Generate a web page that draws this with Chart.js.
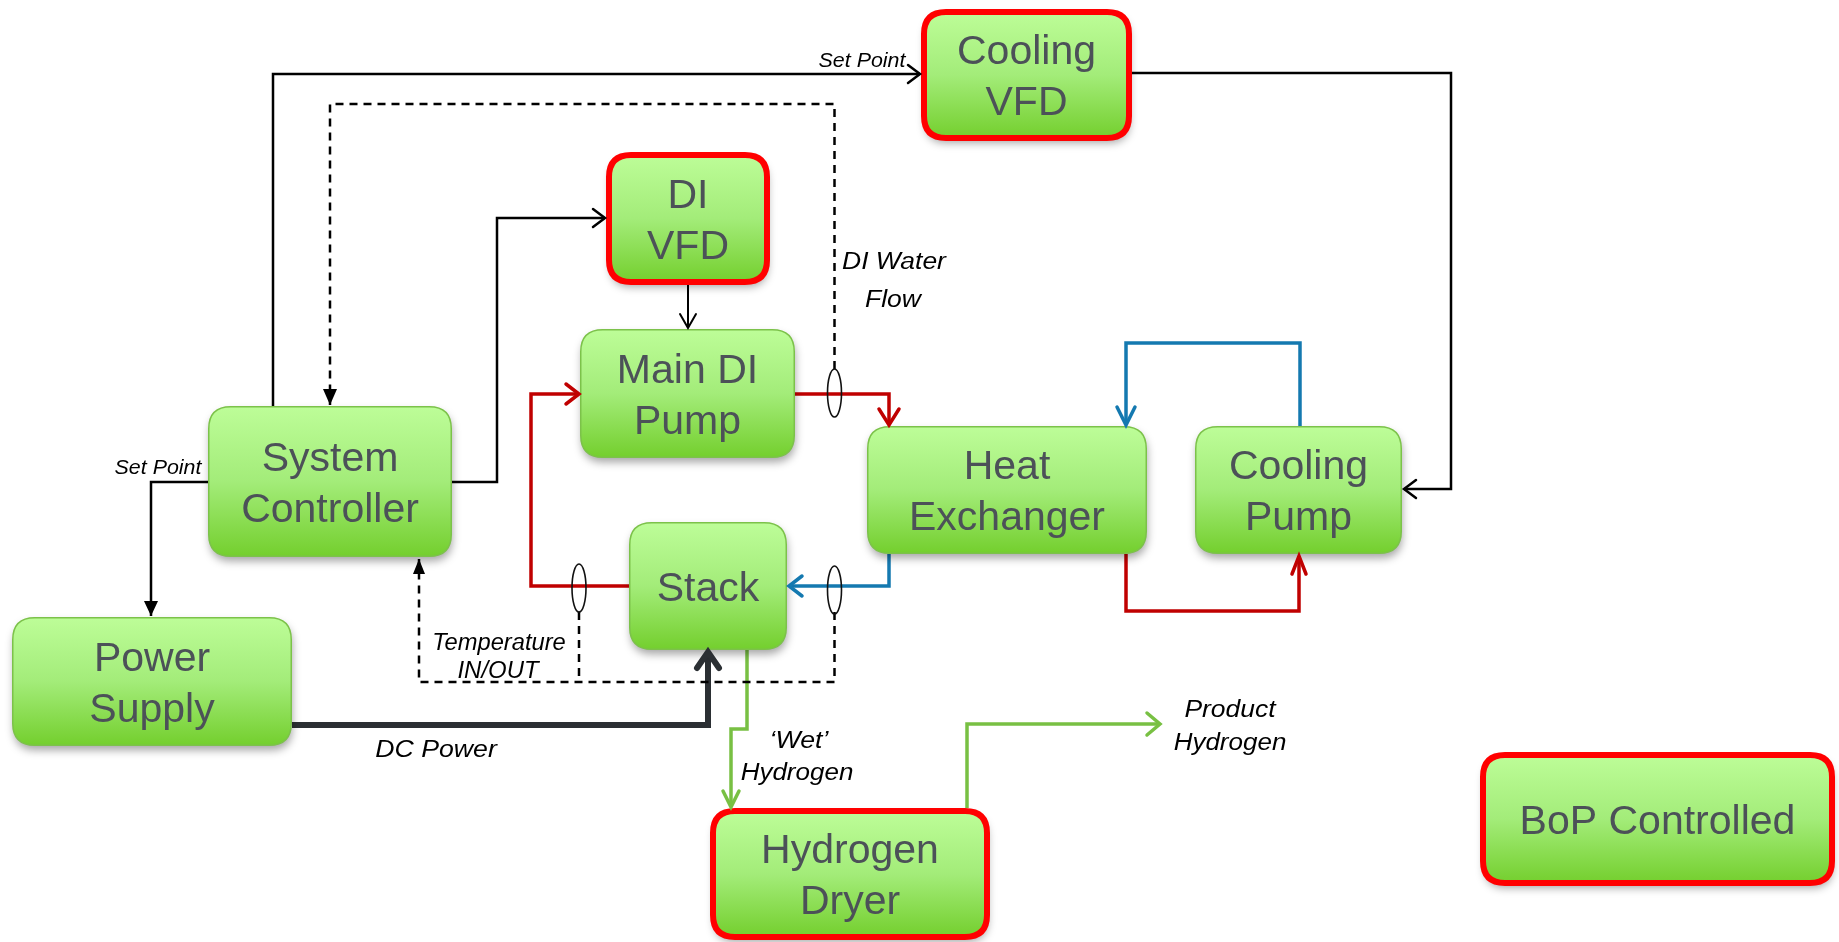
<!DOCTYPE html>
<html>
<head>
<meta charset="utf-8">
<script src="https://cdn.jsdelivr.net/npm/chart.js@4/dist/chart.umd.min.js"></script>
<style>
  html, body { margin: 0; padding: 0; background: #fff; }
  #wrap { width: 1839px; height: 942px; }
</style>
</head>
<body>
<div id="wrap"><canvas id="diagram" width="1839" height="942"></canvas></div>
<script>
  // blocks of the diagram (drawing units = reference pixels)
  const boxLabels = [["Cooling", "VFD"], ["DI", "VFD"], ["Main DI", "Pump"], ["System", "Controller"],
                     ["Heat", "Exchanger"], ["Cooling", "Pump"], ["Stack"], ["Power", "Supply"],
                     ["Hydrogen", "Dryer"], ["BoP Controlled"]];
  const boxLeft   = [921, 606, 580, 208, 867, 1195, 629, 12, 710, 1480];
  const boxTop    = [9, 152, 329, 406, 426, 426, 522, 617, 808, 752];
  const boxRight  = [1132, 770, 795, 452, 1147, 1402, 787, 292, 990, 1835];
  const boxBottom = [141, 285, 458, 557, 554, 554, 650, 746, 940, 886];
  const boxBoP    = [true, true, false, false, false, false, false, false, true, true];

  // connectors, as polylines
  const setPointTop   = [[273, 406], [273, 74], [920, 74]];
  const diFlowSignal  = [[834.5, 369], [834.5, 104], [330, 104], [330, 405]];
  const ctrlToDiVfd   = [[452, 482], [497, 482], [497, 218], [605, 218]];
  const diVfdToPump   = [[688, 285], [688, 328]];
  const setPointLeft  = [[208, 482], [151, 482], [151, 616]];
  const tempSignal    = [[834.5, 612], [834.5, 682], [419, 682], [419, 559]];
  const tempInBranch  = [[579, 612], [579, 682]];
  const stackToPump   = [[629, 586], [531, 586], [531, 394], [579, 394]];
  const pumpToHx      = [[795, 394], [889, 394], [889, 425]];
  const hxToStack     = [[889, 554], [889, 586], [789, 586]];
  const coolLoopBlue  = [[1300, 426], [1300, 343], [1126, 343], [1126, 425]];
  const coolLoopRed   = [[1126, 554], [1126, 611], [1299, 611], [1299, 556]];
  const coolVfdToPump = [[1132, 73], [1451, 73], [1451, 489], [1404, 489]];
  const dcPower       = [[292, 725], [708, 725], [708, 652]];
  const wetHydrogen   = [[747, 650], [747, 729], [731, 729], [731, 807]];
  const productH2     = [[967, 808], [967, 724], [1160, 724]];

  // flow / temperature sensors
  const sensorX = [834.5, 579, 834.5];
  const sensorY = [393, 588, 590];

  // italic annotations
  const noteTexts = ["Set Point", "Set Point", "DI Water", "Flow", "Temperature", "IN/OUT",
                     "DC Power", "\u2018Wet\u2019", "Hydrogen", "Product", "Hydrogen"];
  const noteX = [862, 158, 894, 893, 499, 498, 436, 799, 797, 1230, 1230];
  const noteY = [67, 474, 269, 307, 650, 678, 757, 748, 780, 717, 750];
  const noteSize = [20, 20, 23, 23, 23, 23, 23, 23, 23, 23, 23];
  const noteStretch = [1.07, 1.07, 1.15, 1.15, 1.03, 1.04, 1.16, 1.16, 1.13, 1.15, 1.13];

  const RED = "#c00000", BLUE = "#1479b0", GREEN = "#78c043", BLACK = "#000000", DARK = "#2b2f33";

  const links = [
    { pts: setPointTop,   color: BLACK, width: 2.5, arrow: "open",  len: 12, half: 9 },
    { pts: diFlowSignal,  color: BLACK, width: 2.5, dash: [8, 6], arrow: "fill", len: 16, half: 7 },
    { pts: ctrlToDiVfd,   color: BLACK, width: 2.5, arrow: "open",  len: 12, half: 9 },
    { pts: diVfdToPump,   color: BLACK, width: 2,   arrow: "open",  len: 14, half: 8 },
    { pts: setPointLeft,  color: BLACK, width: 2.5, arrow: "fill",  len: 15, half: 7 },
    { pts: tempSignal,    color: BLACK, width: 2.5, dash: [8, 6], arrow: "fill", len: 15, half: 6 },
    { pts: tempInBranch,  color: BLACK, width: 2.5, dash: [8, 6] },
    { pts: stackToPump,   color: RED,   width: 3.5, arrow: "open",  len: 13, half: 10 },
    { pts: pumpToHx,      color: RED,   width: 3.5, arrow: "open",  len: 16, half: 10 },
    { pts: hxToStack,     color: BLUE,  width: 3.5, arrow: "open",  len: 13, half: 10 },
    { pts: coolLoopBlue,  color: BLUE,  width: 3.5, arrow: "open",  len: 18, half: 9 },
    { pts: coolLoopRed,   color: RED,   width: 3.5, arrow: "open",  len: 18, half: 7 },
    { pts: coolVfdToPump, color: BLACK, width: 2.5, arrow: "open",  len: 12, half: 9 },
    { pts: dcPower,       color: DARK,  width: 6,   arrow: "open",  len: 16, half: 11 },
    { pts: wetHydrogen,   color: GREEN, width: 3.5, arrow: "open",  len: 16, half: 8 },
    { pts: productH2,     color: GREEN, width: 3.5, arrow: "open",  len: 13, half: 11 }
  ];

  const datasets = links.map(l => ({
    type: 'line',
    data: l.pts.map(p => ({ x: p[0], y: p[1] })),
    borderColor: l.color,
    borderWidth: l.width,
    borderDash: l.dash || [],
    borderJoinStyle: 'miter',
    borderCapStyle: 'butt',
    pointRadius: 0,
    fill: false,
    tension: 0
  }));

  function roundRect(ctx, x, y, w, h, r) {
    ctx.beginPath();
    ctx.moveTo(x + r, y);
    ctx.lineTo(x + w - r, y);
    ctx.quadraticCurveTo(x + w, y, x + w, y + r);
    ctx.lineTo(x + w, y + h - r);
    ctx.quadraticCurveTo(x + w, y + h, x + w - r, y + h);
    ctx.lineTo(x + r, y + h);
    ctx.quadraticCurveTo(x, y + h, x, y + h - r);
    ctx.lineTo(x, y + r);
    ctx.quadraticCurveTo(x, y, x + r, y);
    ctx.closePath();
  }

  const diagramPlugin = {
    id: 'diagram',
    afterDatasetsDraw(chart) {
      const ctx = chart.ctx;
      const sx = chart.scales.x, sy = chart.scales.y;

      // boxes
      for (let i = 0; i < boxLabels.length; i++) {
        let x1 = sx.getPixelForValue(boxLeft[i]), x2 = sx.getPixelForValue(boxRight[i]);
        let y1 = sy.getPixelForValue(boxTop[i]), y2 = sy.getPixelForValue(boxBottom[i]);
        const bw = boxBoP[i] ? 6 : 1.5;
        const inset = bw / 2;
        x1 += inset; x2 -= inset; y1 += inset; y2 -= inset;
        const grad = ctx.createLinearGradient(0, y1, 0, y2);
        grad.addColorStop(0, '#bdfd98');
        grad.addColorStop(0.5, '#a3ec79');
        grad.addColorStop(1, '#74cf2e');
        ctx.save();
        ctx.shadowColor = 'rgba(0,0,0,0.35)';
        ctx.shadowBlur = 8;
        ctx.shadowOffsetY = 5;
        ctx.shadowOffsetX = 1;
        roundRect(ctx, x1, y1, x2 - x1, y2 - y1, 22);
        ctx.fillStyle = grad;
        ctx.fill();
        ctx.restore();
        ctx.save();
        roundRect(ctx, x1, y1, x2 - x1, y2 - y1, 22);
        ctx.lineWidth = bw;
        ctx.strokeStyle = boxBoP[i] ? '#ff0000' : '#7cc24a';
        ctx.stroke();
        ctx.fillStyle = '#4c5158';
        ctx.font = "41px 'Liberation Sans', Arial, sans-serif";
        ctx.textAlign = 'center';
        ctx.textBaseline = 'alphabetic';
        const cx = (x1 + x2) / 2, cy = (y1 + y2) / 2;
        const lines = boxLabels[i];
        lines.forEach((t, k) => {
          const off = (k - (lines.length - 1) / 2) * 51;
          ctx.fillText(t, cx, cy + off + 14.5);
        });
        ctx.restore();
      }

      // arrow heads at the end of each connector
      chart.data.datasets.forEach((ds, i) => {
        const l = links[i];
        if (!l.arrow) return;
        const pts = chart.getDatasetMeta(i).data;
        const a = pts[pts.length - 2], b = pts[pts.length - 1];
        const dx = b.x - a.x, dy = b.y - a.y;
        const d = Math.hypot(dx, dy);
        const ux = dx / d, uy = dy / d;
        const px = -uy, py = ux;
        const bx = b.x - ux * l.len, by = b.y - uy * l.len;
        ctx.save();
        ctx.beginPath();
        ctx.moveTo(bx + px * l.half, by + py * l.half);
        ctx.lineTo(b.x, b.y);
        ctx.lineTo(bx - px * l.half, by - py * l.half);
        if (l.arrow === 'fill') {
          ctx.closePath();
          ctx.fillStyle = l.color;
          ctx.fill();
        } else {
          ctx.strokeStyle = l.color;
          ctx.lineWidth = l.width;
          ctx.lineJoin = 'miter';
          ctx.lineCap = 'round';
          ctx.stroke();
        }
        ctx.restore();
      });

      // sensors
      ctx.save();
      ctx.strokeStyle = '#111';
      ctx.lineWidth = 1.6;
      for (let i = 0; i < sensorX.length; i++) {
        ctx.beginPath();
        ctx.ellipse(sx.getPixelForValue(sensorX[i]), sy.getPixelForValue(sensorY[i]), 7, 24, 0, 0, Math.PI * 2);
        ctx.stroke();
      }
      ctx.restore();

      // notes (slightly widened italic, like the original)
      for (let i = 0; i < noteTexts.length; i++) {
        ctx.save();
        ctx.fillStyle = '#000';
        ctx.textAlign = 'center';
        ctx.textBaseline = 'alphabetic';
        ctx.font = "italic " + noteSize[i] + "px 'Liberation Sans', Arial, sans-serif";
        ctx.translate(sx.getPixelForValue(noteX[i]), sy.getPixelForValue(noteY[i]));
        ctx.scale(noteStretch[i], 1);
        ctx.fillText(noteTexts[i], 0, 0);
        ctx.restore();
      }
    }
  };

  new Chart(document.getElementById('diagram').getContext('2d'), {
    type: 'scatter',
    data: { datasets: datasets },
    options: {
      responsive: false,
      devicePixelRatio: 1,
      animation: false,
      layout: { padding: 0 },
      plugins: { legend: { display: false }, tooltip: { enabled: false } },
      scales: {
        x: { type: 'linear', min: 0, max: 1839, display: false },
        y: { type: 'linear', min: 0, max: 942, reverse: true, display: false }
      }
    },
    plugins: [diagramPlugin]
  });
</script>
</body>
</html>
